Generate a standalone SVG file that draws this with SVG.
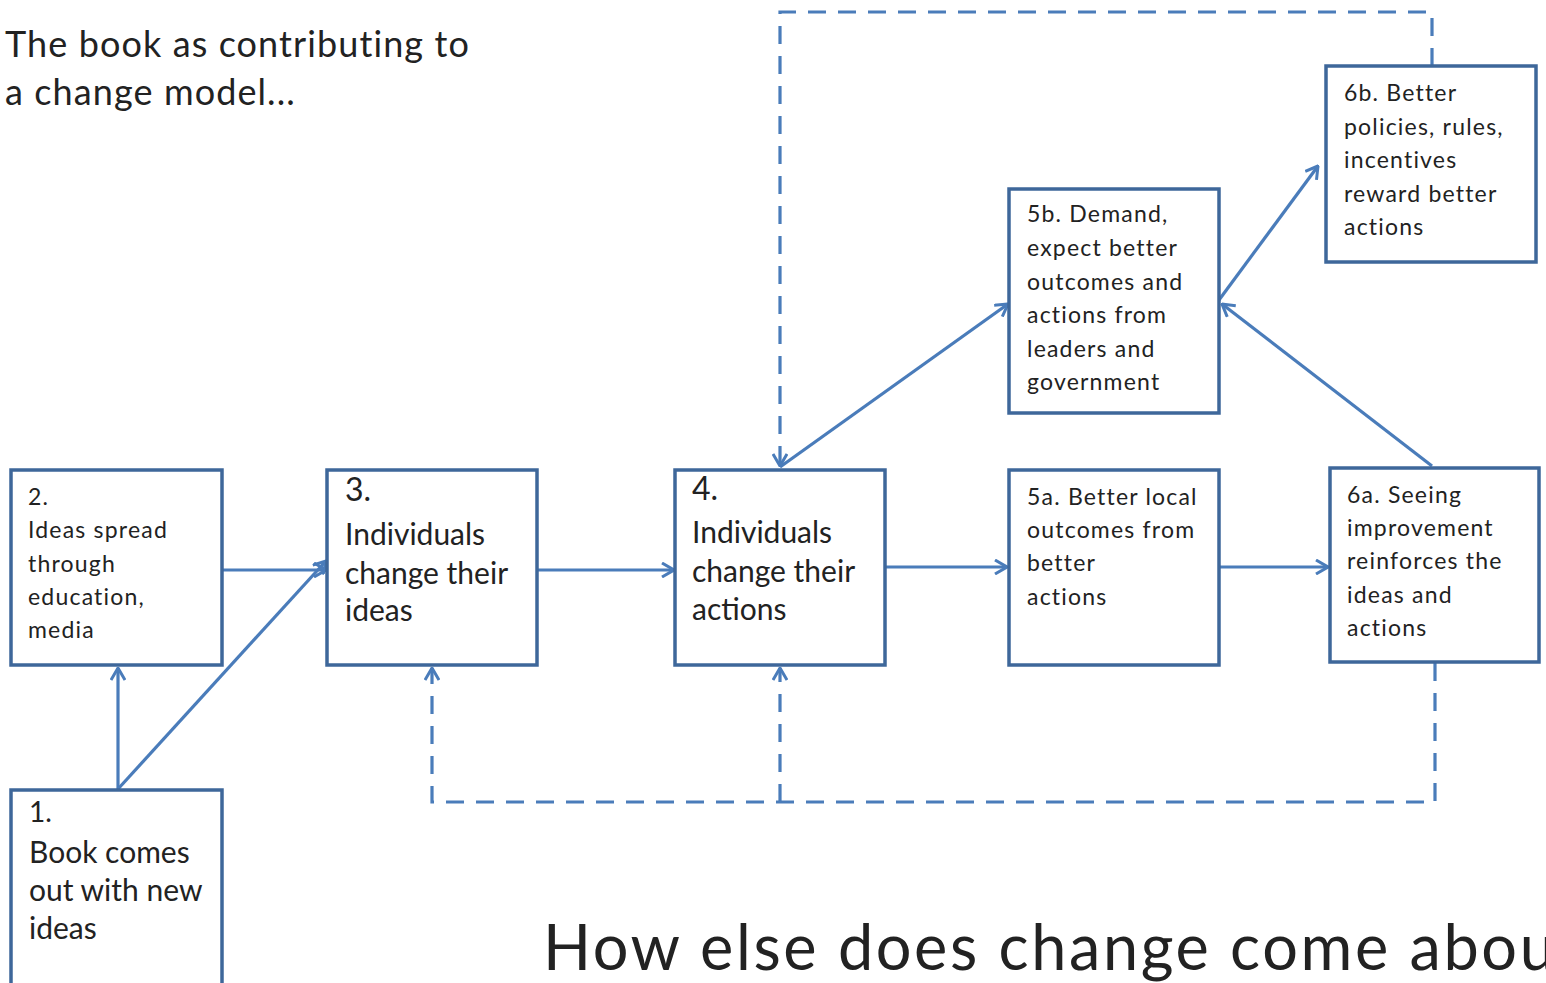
<svg xmlns="http://www.w3.org/2000/svg" width="1546" height="983" viewBox="0 0 1546 983">
<style>
.box{fill:#fff;stroke:#3e679a;stroke-width:3.5}
.t{font-family:Lato,"Open Sans",sans-serif;fill:#222}
.s{font-size:23px;letter-spacing:1.2px}
.m{font-size:30px}
.c{fill:none;stroke:#4a7cba;stroke-width:3.2}
.d{fill:none;stroke:#4a7cba;stroke-width:3.2;stroke-dasharray:18 12}
</style>
<defs>
<marker id="a" viewBox="0 0 14 16" refX="13" refY="8" markerWidth="14" markerHeight="16" markerUnits="userSpaceOnUse" orient="auto">
<path d="M1,1 L13,8 L1,15" fill="none" stroke="#4a7cba" stroke-width="3"/>
</marker>
</defs>
<rect width="1546" height="983" fill="#fff"/>
<text class="t" x="5" y="57" font-size="36" letter-spacing="1.1">The book as contributing to</text>
<text class="t" x="5" y="105" font-size="36" letter-spacing="1.1">a change model...</text>

<g id="connectors">
<line class="c" x1="118" y1="789" x2="118" y2="668" marker-end="url(#a)"/>
<line class="c" x1="118" y1="789" x2="326" y2="561" marker-end="url(#a)"/>
<line class="c" x1="222" y1="570" x2="326" y2="570" marker-end="url(#a)"/>
<line class="c" x1="537" y1="570" x2="674" y2="570" marker-end="url(#a)"/>
<line class="c" x1="885" y1="567" x2="1007" y2="567" marker-end="url(#a)"/>
<line class="c" x1="1219" y1="567" x2="1328" y2="567" marker-end="url(#a)"/>
<line class="c" x1="780" y1="467" x2="1008" y2="304" marker-end="url(#a)"/>
<line class="c" x1="1219" y1="300" x2="1318" y2="166" marker-end="url(#a)"/>
<line class="c" x1="1432" y1="466" x2="1222" y2="304" marker-end="url(#a)"/>
<path class="d" d="M1432,66 L1432,12 L780,12 L780,466" marker-end="url(#a)"/>
<path class="d" d="M1435,663 L1435,802 L432,802 L432,668" marker-end="url(#a)"/>
<path class="d" d="M780,802 L780,668" marker-end="url(#a)"/>
</g>

<g id="n1">
<rect class="box" x="11" y="790" width="211" height="200"/>
<text class="t" x="29" y="822" font-size="28">1.</text>
<text class="t m" x="29" y="863">Book comes</text>
<text class="t m" x="29" y="901">out with new</text>
<text class="t m" x="29" y="939">ideas</text>
</g>
<g id="n2">
<rect class="box" x="11" y="470" width="211" height="195"/>
<text class="t s" x="28" y="505">2.</text>
<text class="t s" x="28" y="538">Ideas spread</text>
<text class="t s" x="28" y="572">through</text>
<text class="t s" x="28" y="605">education,</text>
<text class="t s" x="28" y="638">media</text>
</g>
<g id="n3">
<rect class="box" x="327" y="470" width="210" height="195"/>
<text class="t" x="345" y="501" font-size="32">3.</text>
<text class="t m" x="345" y="545">Individuals</text>
<text class="t m" x="345" y="584">change their</text>
<text class="t m" x="345" y="621">ideas</text>
</g>
<g id="n4">
<rect class="box" x="675" y="470" width="210" height="195"/>
<text class="t" x="692" y="500" font-size="32">4.</text>
<text class="t m" x="692" y="543">Individuals</text>
<text class="t m" x="692" y="582">change their</text>
<text class="t m" x="692" y="620">actions</text>
</g>
<g id="n5a">
<rect class="box" x="1009" y="470" width="210" height="195"/>
<text class="t s" x="1027" y="505">5a. Better local</text>
<text class="t s" x="1027" y="538">outcomes from</text>
<text class="t s" x="1027" y="571">better</text>
<text class="t s" x="1027" y="605">actions</text>
</g>
<g id="n6a">
<rect class="box" x="1330" y="468" width="209" height="194"/>
<text class="t s" x="1347" y="503">6a. Seeing</text>
<text class="t s" x="1347" y="536">improvement</text>
<text class="t s" x="1347" y="569">reinforces the</text>
<text class="t s" x="1347" y="603">ideas and</text>
<text class="t s" x="1347" y="636">actions</text>
</g>
<g id="n5b">
<rect class="box" x="1009" y="189" width="210" height="224"/>
<text class="t s" x="1027" y="222">5b. Demand,</text>
<text class="t s" x="1027" y="256">expect better</text>
<text class="t s" x="1027" y="290">outcomes and</text>
<text class="t s" x="1027" y="323">actions from</text>
<text class="t s" x="1027" y="357">leaders and</text>
<text class="t s" x="1027" y="390">government</text>
</g>
<g id="n6b">
<rect class="box" x="1326" y="66" width="210" height="196"/>
<text class="t s" x="1344" y="101">6b. Better</text>
<text class="t s" x="1344" y="135">policies, rules,</text>
<text class="t s" x="1344" y="168">incentives</text>
<text class="t s" x="1344" y="202">reward better</text>
<text class="t s" x="1344" y="235">actions</text>
</g>
<text class="t" x="543" y="970" font-size="63" letter-spacing="2.6" fill="#000">How else does change come about?</text>
</svg>
